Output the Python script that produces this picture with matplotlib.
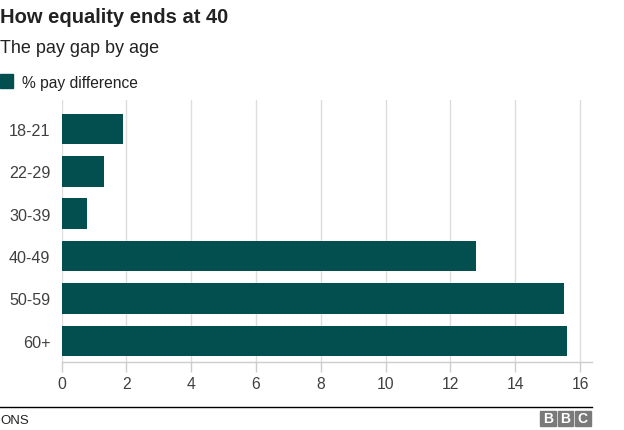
import matplotlib
matplotlib.use("Agg")
import matplotlib.pyplot as plt
from matplotlib.patches import Rectangle
from matplotlib.lines import Line2D

categories = ["18-21", "22-29", "30-39", "40-49", "50-59", "60+"]
values = [1.9, 1.3, 0.8, 12.8, 15.5, 15.6]
xticks = [0, 2, 4, 6, 8, 10, 12, 14, 16]

W, H = 624, 431
plt.rcParams['font.family'] = ['Liberation Sans', 'DejaVu Sans']
fig = plt.figure(figsize=(W / 100, H / 100), dpi=100)

def fx(px):
    return px / W

def fy(py):
    return 1 - py / H

ax = fig.add_axes([fx(61.5), fy(363), fx(592) - fx(61.5), fy(101) - fy(363)])
bar_color = '#034e4f'
ypos = list(range(len(categories)))
ax.barh(ypos, values, height=0.72, color=bar_color, zorder=3)
ax.set_ylim(5.5, -0.684)
ax.set_xlim(0, 16.37)
ax.set_xticks(xticks)
ax.set_xticklabels([str(t) for t in xticks])
ax.set_yticks(ypos)
ax.set_yticklabels(categories)
ax.grid(axis='x', color='#dddddd', linewidth=1, zorder=0)
for s in ['top', 'right', 'left']:
    ax.spines[s].set_visible(False)
ax.spines['bottom'].set_color('#cccccc')
ax.spines['bottom'].set_linewidth(1)
ax.tick_params(axis='x', length=7, color='#cccccc', width=1, labelsize=11.3, labelcolor='#404040', pad=3)
ax.tick_params(axis='y', length=0, labelsize=11.6, labelcolor='#404040', pad=8)

# Titles
fig.text(fx(0), fy(23), "How equality ends at 40", fontsize=14.5, fontweight='bold', color='#222222', va='baseline', ha='left')
fig.text(fx(0), fy(53), "The pay gap by age", fontsize=13, color='#222222', va='baseline', ha='left')

# Legend
fig.patches.append(Rectangle((fx(0), fy(89)), fx(13), fy(75) - fy(89), transform=fig.transFigure, color=bar_color))
fig.text(fx(21.5), fy(88), "% pay difference", fontsize=11.25, color='#222222', va='baseline', ha='left')

# Footer
fig.lines.append(Line2D([0, fx(592)], [fy(407.5), fy(407.5)], transform=fig.transFigure, color='black', linewidth=1))
fig.text(fx(0), fy(424), "ONS", fontsize=9.5, color='#222222', va='baseline', ha='left')

# BBC blocks
for i, letter in enumerate("BBC"):
    x0 = 540 + i * 17.5
    fig.patches.append(Rectangle((fx(x0), fy(427)), fx(15.5), fy(412) - fy(427), transform=fig.transFigure, color='#7a7a7a'))
    fig.text(fx(x0 + 7.75), fy(419.5), letter, fontsize=10, fontweight='bold', color='white', ha='center', va='center')

fig.savefig("out.png", dpi=100)
